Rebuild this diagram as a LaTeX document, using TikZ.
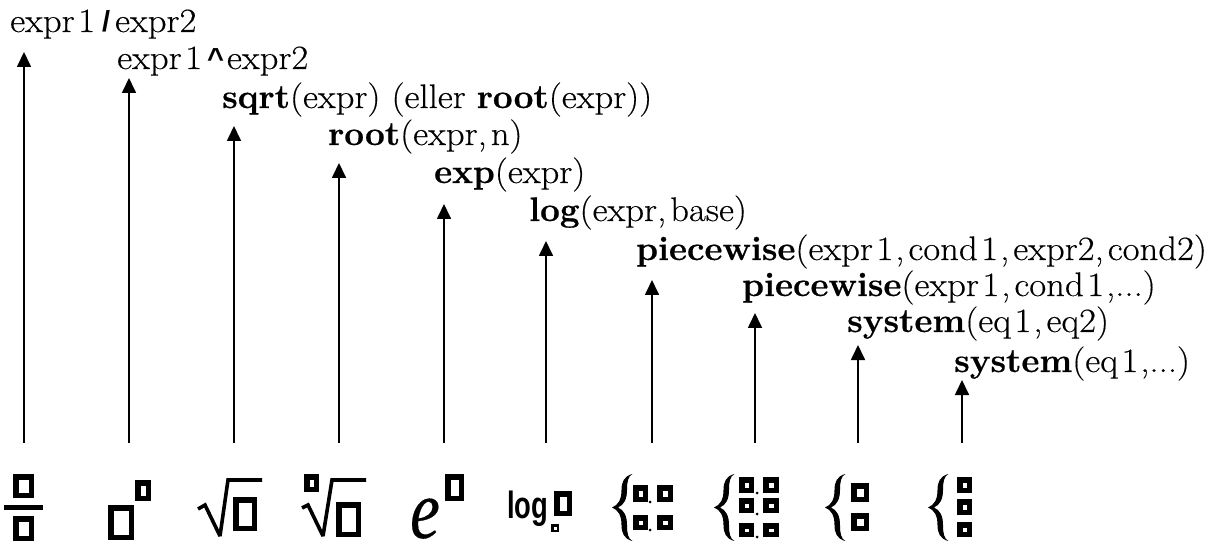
\documentclass[tikz,border=0pt]{standalone}
\usepackage{fontspec}
\setmainfont{Latin Modern Roman}[FakeStretch=1.08,FakeBold=0.35,BoldFeatures={FakeStretch=1.03,FakeBold=0.6}]
\newfontfamily\logfont{Liberation Sans}[FakeStretch=0.72]
\newfontfamily\opfont{Liberation Sans}
\newfontfamily\efont{Liberation Serif}[FakeStretch=0.8,FakeBold=0.2]
\usetikzlibrary{arrows.meta}
\tikzset{
  label/.style={anchor=base west,inner sep=0pt,font=\fontsize{34}{34}\selectfont},
  conn/.style={line width=1.7pt,-{Triangle[length=15pt,width=14pt]}},
  ibox/.style={draw=black,line width=5.5pt,miter limit=10,fill=white},
  thin box/.style={draw=black,line width=2.5pt,fill=white},
  sq/.style={draw=black,line width=3.6pt,miter limit=3,line join=miter},
}
\newcommand{\ibx}[4]{\draw[ibox] (#1+2.75,#3+2.75) rectangle (#2-2.75,#4-2.75);}
\newcommand{\tbx}[4]{\draw[thin box] (#1+1.25,#3+1.25) rectangle (#2-1.25,#4-1.25);}
\newcommand{\cbrace}[1]{\fill[black,xshift=#1] (20.5,474) .. controls (12,476) and (9.5,482) .. (9.5,490) .. controls (9.5,500) and (6,505) .. (0,507.5) .. controls (6,510) and (9.5,515) .. (9.5,525) .. controls (9.5,533) and (12,539) .. (20.5,541) .. controls (16,539) and (15,533) .. (15,525) .. controls (15,516) and (12,510) .. (6,507.5) .. controls (12,505) and (15,499) .. (15,490) .. controls (15,482) and (16,476) .. (20.5,474) -- cycle;}
\newcommand{\cdotc}[2]{\fill[black] (#1,#2) circle (1.5);}
\newcommand{\opsym}[2]{\kern#2pt{\opfont\fontsize{29}{29}\selectfont\bfseries #1}\kern#2pt}
\newcommand{\digA}{\kern3.5pt 1\kern2pt}
\newcommand{\comA}{,\kern4pt}
\begin{document}
\begin{tikzpicture}[x=1pt,y=-1pt]
\useasboundingbox (0,0) rectangle (1221,545);
% labels
\node[label] (l1) at (10,32) {expr\digA\opsym{/}{5}expr2};
\node[label] (l2) at (117,69) {expr\digA\opsym{\char`\^}{3}expr2};
\node[label] (l3) at (222,108) {\textbf{sqrt}(expr) (eller \textbf{root}(expr))};
\node[label] (l4) at (328,145) {\textbf{root}(expr\comA n)};
\node[label] (l5) at (434,183) {\textbf{exp}(expr)};
\node[label] (l6) at (529,221) {\textbf{log}(expr\comA base)};
\node[label] (l7) at (636,260) {\textbf{piecewise}(expr\digA\comA cond\digA\comA expr2\comA cond2)};
\node[label] (l8) at (742,296) {\textbf{piecewise}(expr\digA\comA cond\digA,...)};
\node[label] (l9) at (847,332) {\textbf{system}(eq\digA\comA eq2)};
\node[label] (l10) at (954,372) {\textbf{system}(eq\digA,...)};
% connectors
\foreach \n/\x/\t in {1/24/52,2/129/78,3/234/126,4/339/163,5/444/204,6/546/241,7/652/280,8/755/313,9/858/345,10/962/380}{
  \coordinate (s\n) at (\x,443);
  \coordinate (e\n) at (\x,\t);
  \draw[conn] (s\n) -- (e\n);
}
% fraction
\ibx{13}{34}{474}{498}
\fill[black] (4,504.5) rectangle (43,509.5);
\ibx{13}{34}{516}{541}
% power
\ibx{108}{134}{505}{540}
\ibx{135}{151}{480}{501}
% sqrt
\draw[sq] (198,509) -- (205,505) -- (220,536) -- (228,480) -- (262,480);
\ibx{233}{257}{497}{531}
% nth root
\ibx{304}{319}{474}{492}
\draw[sq] (302,508) -- (308,505) -- (323,536) -- (332,480) -- (366,480);
\ibx{336}{361}{502}{537}
% e
\node[anchor=base,inner sep=0pt,font=\fontsize{84}{84}\selectfont\efont\itshape] (ee) at (425,538) {e};
\ibx{445}{464}{474}{501}
% log
\node[anchor=base west,inner sep=0pt,font=\fontsize{38}{38}\selectfont\logfont\bfseries] (lg) at (507,518) {log};
\ibx{554}{572}{491}{516}
\tbx{551}{559}{524}{532}
% piecewise 2x2
\cbrace{612}
\ibx{633}{648}{485}{502}\ibx{657}{673}{485}{502}
\ibx{633}{648}{515}{530}\ibx{657}{673}{515}{530}
\cdotc{650}{502}\cdotc{650}{530}
% piecewise 3x2
\cbrace{714}
\ibx{739}{754}{477}{493}\ibx{763}{779}{477}{493}
\ibx{739}{754}{498}{513}\ibx{763}{779}{498}{513}
\ibx{739}{754}{523}{537}\ibx{763}{779}{523}{537}
\cdotc{757}{493}\cdotc{757}{514}\cdotc{757}{537}
% system 2
\cbrace{825}
\ibx{851}{869}{483}{502}
\ibx{851}{869}{513}{531}
% system 3
\cbrace{928}
\ibx{957}{972}{477}{493}
\ibx{957}{972}{499}{515}
\ibx{957}{972}{522}{537}
\end{tikzpicture}
\end{document}
